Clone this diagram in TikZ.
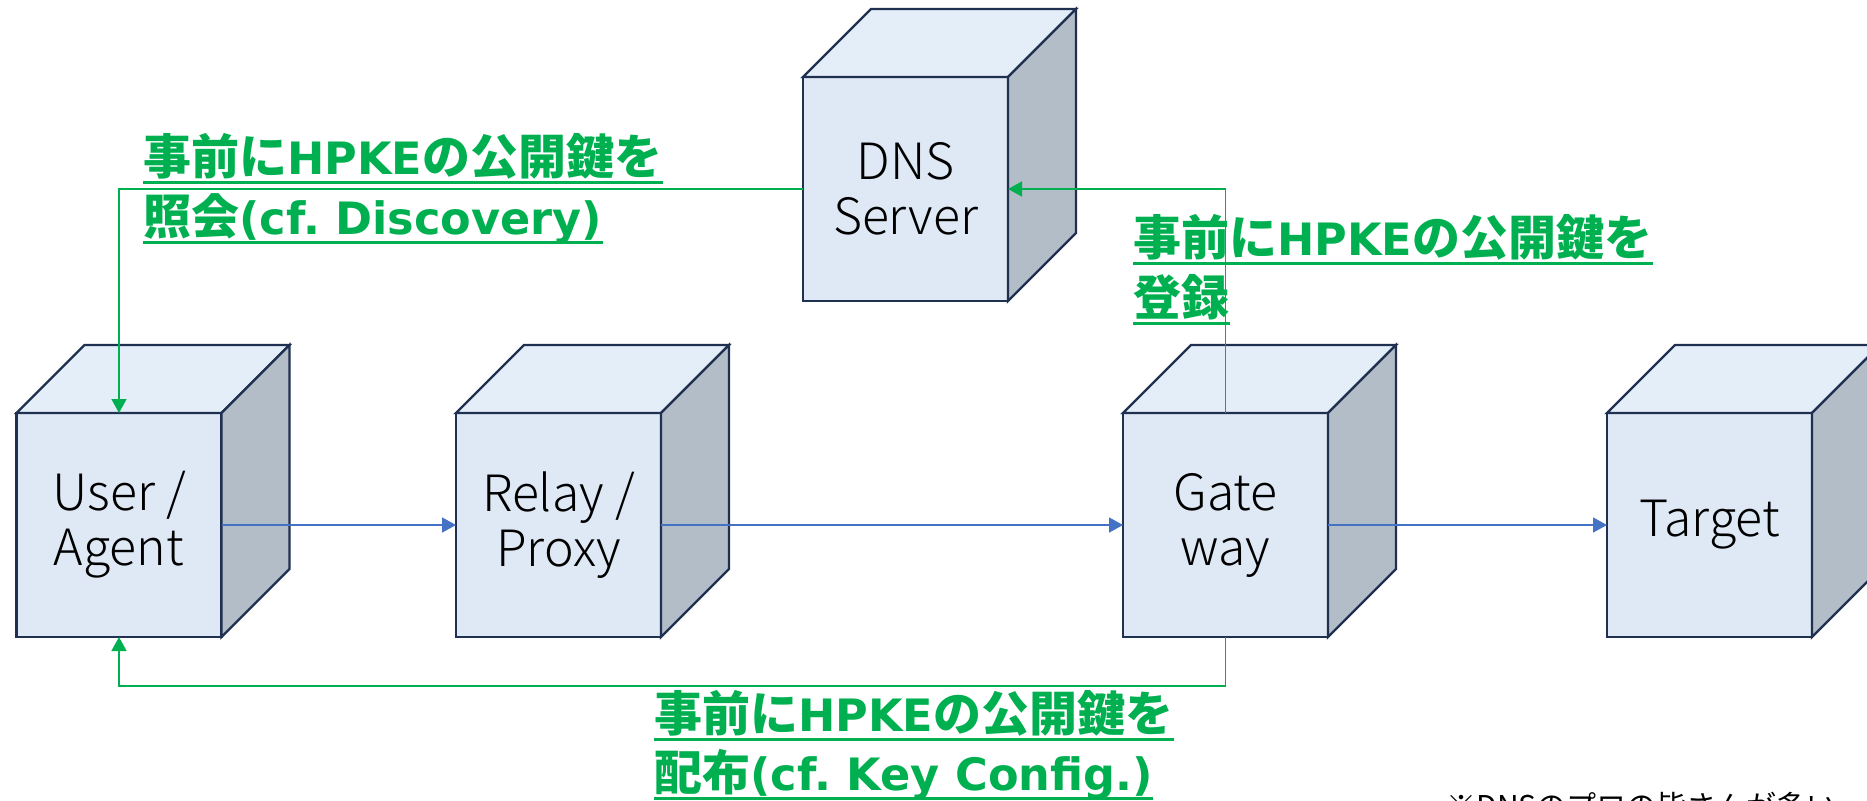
\documentclass[tikz,border=0pt]{standalone}
\usepackage{fontspec}
\setmainfont{Noto Sans CJK JP}
\newfontfamily\jpfont{Noto Sans CJK JP}[Scale=1.076]
\newfontfamily\cubefont{Noto Sans CJK JP}[UprightFont=* Light]
\newfontfamily\verdfont{DejaVu Sans}
\usetikzlibrary{arrows.meta}

\definecolor{cubefront}{HTML}{DEE9F5}
\definecolor{cubetop}{HTML}{E4EEF8}
\definecolor{cubeside}{HTML}{B3BDC8}
\definecolor{cubeedge}{HTML}{1F3050}
\definecolor{flowblue}{HTML}{4472C4}
\definecolor{keygreen}{HTML}{00B050}

\newcommand\jtxt[1]{{\jpfont\bfseries #1}}

\begin{document}
\begin{tikzpicture}[x=0.5pt, y=-0.5pt,
  cube/.style={rectangle, draw=cubeedge, fill=cubefront, line width=1.2pt,
    minimum width=102.5pt, minimum height=112pt, outer sep=0pt, inner sep=0pt,
    align=center, font=\cubefont\fontsize{25}{27.5}\selectfont},
  cubeline/.style={draw=cubeedge, line width=1.2pt},
  flow/.style={draw=flowblue, line width=0.75pt, -{Triangle[length=7pt,width=7.5pt]}},
  keyflow/.style={draw=keygreen, line width=0.75pt, -{Triangle[length=7pt,width=7.5pt]}},
  keytext/.style={anchor=base west, inner sep=0pt, text=keygreen,
    font=\verdfont\bfseries\fontsize{22.3}{30}\selectfont}]

% ===== Define cube parameters =====
\def\cDepth{34pt}     % depth of the top and side faces
\def\cWidth{102.5pt}  % width of the front face
\def\cHeight{112pt}   % height of the front face
\def\yRow{525}        % y-coordinate of the bottom row

\useasboundingbox (0,0) rectangle (1867,800);

% ===== Front faces =====
\node[cube] (user)   at (119,\yRow)    {User /\\Agent};
\node[cube] (relay)  at (558.5,\yRow)  {Relay /\\Proxy};
\node[cube] (gate)   at (1225.5,\yRow) {Gate\\way};
\node[cube] (target) at (1709.5,\yRow) {Target};
\node[cube] (dns)    at (905.5,189)    {DNS\\Server};

% ===== Top and side faces =====
\foreach \n in {user,relay,gate,target,dns} {
    \draw[cubeline, fill=cubetop] (\n.north west) -- ++(\cDepth,\cDepth) -- ++(\cWidth,0pt) -- (\n.north east) -- cycle;
    \draw[cubeline, fill=cubeside] (\n.north east) -- ++(\cDepth,\cDepth) -- ++(0pt,-\cHeight) -- (\n.south east) -- cycle;
}

% ===== Data flow =====
\draw[flow] (user) -- (relay);
\draw[flow] (relay) -- (gate);
\draw[flow] (gate) -- (target);

% ===== Key distribution =====
\coordinate (low) at (0,686);
\draw[keyflow] (dns.west) -| (user.north);
\draw[keyflow] (gate.north) |- (dns.east);
\draw[keyflow] (gate.south) -- (gate.south |- low) -| (user.south);

% ===== Labels =====
\node[keytext] (qry1)  at (143,174)  {\jtxt{事前に}HPKE\jtxt{の公開鍵を}};
\node[keytext] (qry2)  at (143,234)  {\jtxt{照会}(cf.\ Discovery)};
\node[keytext] (reg1)  at (1133,255) {\jtxt{事前に}HPKE\jtxt{の公開鍵を}};
\node[keytext] (reg2)  at (1133,315) {\jtxt{登録}};
\node[keytext] (dist1) at (654,731)  {\jtxt{事前に}HPKE\jtxt{の公開鍵を}};
\node[keytext] (dist2) at (654,790)  {\jtxt{配布}(cf.\ Key Config.)};

% underlines
\foreach \n in {qry1,qry2,reg1,reg2,dist1,dist2}
    \draw[keygreen, line width=1.5pt] ([yshift=-4pt]\n.base west) -- ([yshift=-4pt]\n.base east);

% note at the lower edge
\node[anchor=base west, inner sep=0pt, font=\fontsize{15}{18}\selectfont] (note) at (1446,817) {※DNSのプロの皆さんが多い};

\end{tikzpicture}
\end{document}
